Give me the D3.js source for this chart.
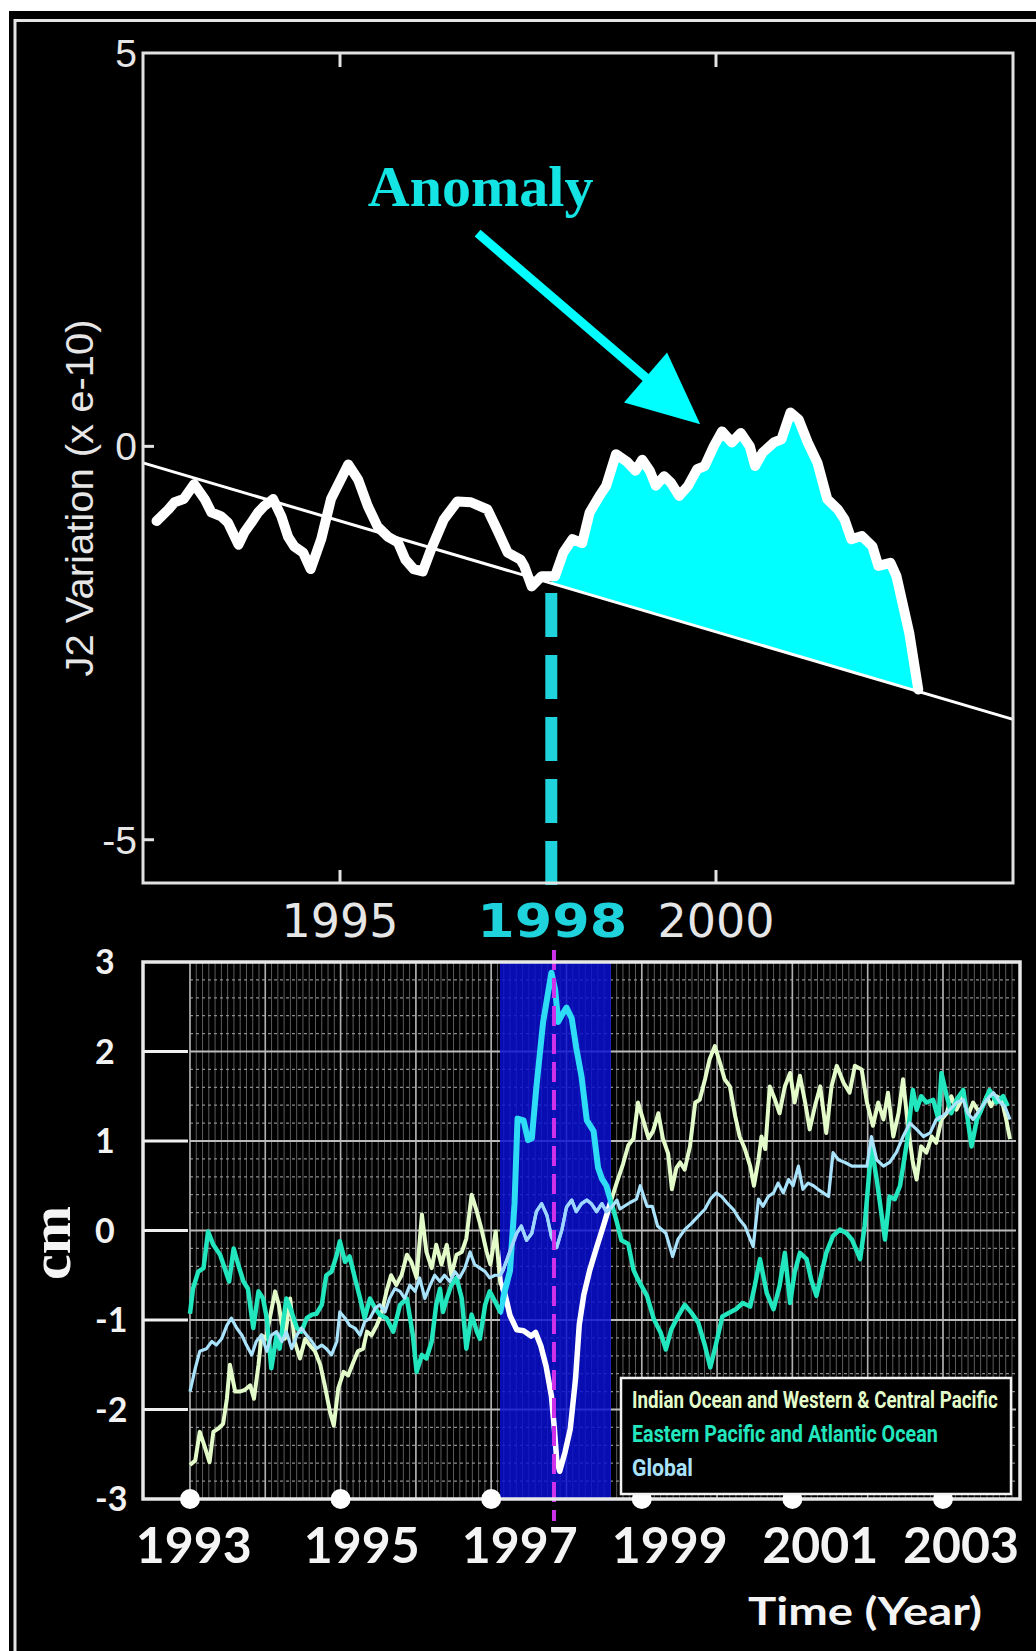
<!DOCTYPE html>
<html>
<head>
<meta charset="utf-8">
<script src="https://cdn.jsdelivr.net/npm/d3@7"></script>
<style>
  html, body { margin: 0; padding: 0; background: #fff; }
  svg { display: block; }
</style>
</head>
<body>
<div id="main"></div>
<script>
(function() {
  // ---- top panel: J2 variation (x e-10) ----
  const j2Series = [
    [1992.56,-0.95],[1992.72,-0.80],[1992.80,-0.71],[1992.92,-0.67],[1993.06,-0.48],[1993.20,-0.67],
    [1993.29,-0.84],[1993.42,-0.89],[1993.51,-0.97],[1993.65,-1.25],[1993.73,-1.09],[1993.82,-0.97],
    [1993.91,-0.84],[1993.99,-0.76],[1994.11,-0.67],[1994.22,-0.89],[1994.31,-1.15],[1994.39,-1.27],
    [1994.51,-1.35],[1994.61,-1.56],[1994.75,-1.18],[1994.88,-0.67],[1995.11,-0.23],[1995.24,-0.42],
    [1995.37,-0.76],[1995.50,-1.02],[1995.64,-1.15],[1995.77,-1.22],[1995.87,-1.44],[1995.98,-1.56],
    [1996.10,-1.59],[1996.21,-1.31],[1996.38,-0.93],[1996.56,-0.70],[1996.74,-0.71],[1996.96,-0.80],
    [1997.09,-1.06],[1997.23,-1.35],[1997.40,-1.44],[1997.45,-1.52],[1997.55,-1.78],[1997.68,-1.65],
    [1997.86,-1.65],[1997.97,-1.35],[1998.09,-1.18],[1998.22,-1.23],[1998.32,-0.84],[1998.45,-0.63],
    [1998.54,-0.50],[1998.67,-0.10],[1998.81,-0.19],[1998.93,-0.31],[1999.02,-0.17],[1999.12,-0.31],
    [1999.20,-0.50],[1999.31,-0.38],[1999.40,-0.46],[1999.51,-0.63],[1999.63,-0.50],[1999.75,-0.29],
    [1999.85,-0.25],[1999.97,0.00],[2000.08,0.19],[2000.21,0.05],[2000.33,0.17],[2000.45,0.00],
    [2000.52,-0.25],[2000.62,-0.08],[2000.77,0.05],[2000.87,0.09],[2000.99,0.43],[2001.10,0.34],
    [2001.22,0.05],[2001.35,-0.21],[2001.48,-0.67],[2001.62,-0.80],[2001.71,-0.93],[2001.80,-1.18],
    [2001.94,-1.14],[2002.08,-1.27],[2002.16,-1.52],[2002.32,-1.48],[2002.40,-1.65],[2002.57,-2.37],
    [2002.69,-3.09]
  ];
  const trendLine = [[1992.38, -0.21], [2003.95, -3.47]];
  const anomalyStart = 1997.81;
  const topYTicks = [5, 0, -5];
  const topXTicks = [1995, 2000];
  const arrowFrom = [1996.83, 2.71];
  const arrowTo = [1999.79, 0.28];
  const anomalyLabelAt = [1995.37, 3.05];

  // ---- bottom panel: sea level (cm) ----
  const indianSeries = [
    [1993.00,-2.62],[1993.07,-2.57],[1993.13,-2.25],[1993.19,-2.40],[1993.26,-2.59],[1993.31,-2.25],
    [1993.38,-2.21],[1993.44,-2.16],[1993.49,-1.88],[1993.53,-1.50],[1993.60,-1.80],[1993.66,-1.80],
    [1993.73,-1.78],[1993.80,-1.73],[1993.85,-1.88],[1993.91,-1.50],[1993.95,-1.17],[1994.01,-1.21],
    [1994.06,-0.98],[1994.13,-0.68],[1994.18,-0.83],[1994.22,-1.06],[1994.26,-1.21],[1994.33,-0.76],
    [1994.39,-1.24],[1994.46,-1.43],[1994.53,-1.21],[1994.59,-1.28],[1994.66,-1.35],[1994.73,-1.50],
    [1994.79,-1.73],[1994.86,-2.03],[1994.91,-2.18],[1994.97,-1.76],[1995.04,-1.58],[1995.10,-1.62],
    [1995.17,-1.47],[1995.23,-1.35],[1995.30,-1.32],[1995.35,-1.13],[1995.41,-1.17],[1995.48,-1.06],
    [1995.54,-0.94],[1995.61,-0.68],[1995.67,-0.50],[1995.74,-0.61],[1995.81,-0.50],[1995.88,-0.27],
    [1995.94,-0.35],[1996.01,-0.53],[1996.08,0.18],[1996.14,-0.24],[1996.21,-0.42],[1996.27,-0.16],
    [1996.34,-0.38],[1996.41,-0.16],[1996.47,-0.50],[1996.54,-0.27],[1996.61,-0.24],[1996.67,-0.09],
    [1996.74,0.40],[1996.81,0.21],[1996.87,0.02],[1996.94,-0.24],[1996.99,-0.38],[1997.06,-0.01],
    [1997.12,-0.58],[1997.18,-0.70],[1997.25,-0.95],[1997.34,-1.11],[1997.43,-1.12],[1997.53,-1.18],
    [1997.59,-1.14],[1997.66,-1.29],[1997.73,-1.52],[1997.80,-1.85],[1997.84,-2.22],[1997.87,-2.56],
    [1997.91,-2.69],[1997.98,-2.48],[1998.05,-2.22],[1998.12,-1.66],[1998.17,-1.05],[1998.23,-0.72],
    [1998.31,-0.44],[1998.40,-0.19],[1998.49,0.05],[1998.58,0.30],[1998.67,0.54],[1998.75,0.74],
    [1998.82,0.95],[1998.89,1.03],[1998.95,1.43],[1999.02,1.23],[1999.09,1.03],[1999.15,1.11],
    [1999.22,1.31],[1999.28,1.03],[1999.35,0.86],[1999.40,0.46],[1999.46,0.70],[1999.51,0.76],
    [1999.57,0.68],[1999.64,0.94],[1999.71,1.43],[1999.77,1.46],[1999.84,1.69],[1999.90,1.91],
    [1999.97,2.06],[2000.04,1.87],[2000.10,1.69],[2000.17,1.61],[2000.24,1.28],[2000.30,1.05],
    [2000.37,0.91],[2000.44,0.72],[2000.49,0.50],[2000.55,0.79],[2000.59,1.05],[2000.64,0.91],
    [2000.70,1.61],[2000.77,1.46],[2000.83,1.31],[2000.90,1.61],[2000.97,1.76],[2001.03,1.43],
    [2001.10,1.73],[2001.17,1.43],[2001.23,1.13],[2001.30,1.39],[2001.37,1.61],[2001.45,1.09],
    [2001.52,1.61],[2001.59,1.84],[2001.68,1.65],[2001.76,1.54],[2001.83,1.84],[2001.92,1.80],
    [2001.99,1.43],[2002.07,1.17],[2002.14,1.43],[2002.21,1.24],[2002.27,1.54],[2002.34,1.05],
    [2002.41,1.31],[2002.47,1.69],[2002.54,1.13],[2002.60,0.76],[2002.65,0.57],[2002.71,0.94],
    [2002.78,0.87],[2002.85,1.05],[2002.91,0.98],[2002.98,1.24],[2003.05,1.31],[2003.11,1.50],
    [2003.18,1.35],[2003.27,1.50],[2003.33,1.28],[2003.40,1.43],[2003.49,1.31],[2003.58,1.50],
    [2003.64,1.39],[2003.71,1.50],[2003.78,1.46],[2003.84,1.24],[2003.89,1.02]
  ];
  const easternSeries = [
    [1993.00,-0.93],[1993.04,-0.65],[1993.11,-0.46],[1993.18,-0.42],[1993.24,-0.01],[1993.31,-0.16],
    [1993.40,-0.27],[1993.46,-0.42],[1993.52,-0.57],[1993.58,-0.20],[1993.64,-0.38],[1993.71,-0.57],
    [1993.77,-0.65],[1993.84,-1.09],[1993.91,-0.68],[1993.97,-0.76],[1994.02,-0.98],[1994.08,-1.54],
    [1994.15,-1.17],[1994.19,-1.32],[1994.28,-0.76],[1994.35,-0.91],[1994.42,-1.09],[1994.48,-1.13],
    [1994.55,-0.98],[1994.62,-0.94],[1994.68,-0.93],[1994.75,-0.83],[1994.81,-0.50],[1994.88,-0.46],
    [1994.95,-0.27],[1994.99,-0.12],[1995.06,-0.35],[1995.12,-0.29],[1995.19,-0.53],[1995.26,-0.76],
    [1995.32,-0.98],[1995.39,-0.76],[1995.46,-0.87],[1995.52,-0.94],[1995.61,-0.98],[1995.70,-1.13],
    [1995.79,-0.83],[1995.88,-0.76],[1995.96,-1.17],[1996.01,-1.58],[1996.08,-1.39],[1996.14,-1.43],
    [1996.21,-1.24],[1996.27,-0.83],[1996.32,-0.65],[1996.36,-0.91],[1996.41,-0.76],[1996.47,-0.61],
    [1996.54,-0.53],[1996.61,-0.76],[1996.67,-1.32],[1996.74,-0.94],[1996.81,-1.13],[1996.85,-1.21],
    [1996.92,-0.83],[1996.98,-0.68],[1997.05,-0.79],[1997.12,-0.91],[1997.18,-0.68],[1997.25,-0.45],
    [1997.31,0.30],[1997.35,1.25],[1997.43,1.23],[1997.49,1.01],[1997.54,1.03],[1997.60,1.60],
    [1997.69,2.33],[1997.80,2.88],[1997.85,2.69],[1997.89,2.33],[1997.94,2.41],[1998.00,2.49],
    [1998.07,2.37],[1998.13,2.04],[1998.20,1.72],[1998.27,1.23],[1998.36,1.11],[1998.42,0.70],
    [1998.47,0.58],[1998.53,0.50],[1998.60,0.30],[1998.67,0.09],[1998.73,-0.11],[1998.82,-0.15],
    [1998.89,-0.44],[1998.95,-0.55],[1999.07,-0.73],[1999.16,-0.99],[1999.25,-1.14],[1999.32,-1.33],
    [1999.39,-1.11],[1999.48,-0.96],[1999.57,-0.83],[1999.66,-0.92],[1999.75,-1.03],[1999.84,-1.29],
    [1999.91,-1.53],[1999.98,-1.29],[2000.07,-0.96],[2000.16,-0.92],[2000.25,-0.88],[2000.34,-0.81],
    [2000.44,-0.85],[2000.50,-0.62],[2000.57,-0.32],[2000.66,-0.70],[2000.75,-0.88],[2000.83,-0.62],
    [2000.90,-0.25],[2000.97,-0.81],[2001.03,-0.47],[2001.10,-0.25],[2001.19,-0.32],[2001.25,-0.55],
    [2001.32,-0.73],[2001.39,-0.47],[2001.45,-0.25],[2001.54,-0.06],[2001.63,0.01],[2001.72,-0.03],
    [2001.79,-0.10],[2001.90,-0.32],[2001.96,0.05],[2002.05,0.94],[2002.12,0.57],[2002.23,-0.10],
    [2002.29,0.38],[2002.36,0.35],[2002.43,0.50],[2002.52,0.98],[2002.60,1.57],[2002.65,1.35],
    [2002.71,1.50],[2002.78,1.43],[2002.87,1.46],[2002.94,1.24],[2002.98,1.76],[2003.05,1.50],
    [2003.11,1.31],[2003.18,1.46],[2003.27,1.57],[2003.31,1.35],[2003.38,0.94],[2003.45,1.24],
    [2003.53,1.39],[2003.62,1.57],[2003.71,1.43],[2003.80,1.50],[2003.86,1.39]
  ];
  const globalSeries = [
    [1993.00,-1.80],[1993.07,-1.54],[1993.13,-1.35],[1993.22,-1.32],[1993.29,-1.24],[1993.35,-1.28],
    [1993.42,-1.21],[1993.49,-1.06],[1993.55,-0.98],[1993.62,-1.09],[1993.69,-1.17],[1993.75,-1.28],
    [1993.82,-1.39],[1993.88,-1.24],[1993.95,-1.17],[1994.02,-1.35],[1994.08,-1.17],[1994.15,-1.13],
    [1994.22,-1.24],[1994.28,-1.13],[1994.35,-1.32],[1994.42,-1.17],[1994.48,-1.09],[1994.55,-1.17],
    [1994.62,-1.24],[1994.68,-1.32],[1994.75,-1.28],[1994.81,-1.32],[1994.88,-1.39],[1994.95,-1.24],
    [1994.99,-0.91],[1995.06,-0.98],[1995.12,-1.06],[1995.19,-1.09],[1995.26,-1.17],[1995.32,-1.02],
    [1995.39,-0.98],[1995.46,-0.87],[1995.52,-0.83],[1995.59,-0.91],[1995.65,-0.76],[1995.72,-0.65],
    [1995.79,-0.68],[1995.85,-0.76],[1995.92,-0.61],[1995.99,-0.68],[1996.05,-0.53],[1996.12,-0.76],
    [1996.19,-0.61],[1996.25,-0.50],[1996.32,-0.57],[1996.38,-0.50],[1996.45,-0.57],[1996.52,-0.46],
    [1996.58,-0.53],[1996.65,-0.42],[1996.72,-0.24],[1996.78,-0.38],[1996.85,-0.42],[1996.92,-0.46],
    [1996.98,-0.53],[1997.05,-0.50],[1997.12,-0.50],[1997.16,-0.44],[1997.25,-0.23],[1997.34,-0.03],
    [1997.40,0.05],[1997.47,-0.11],[1997.54,-0.03],[1997.60,0.21],[1997.67,0.30],[1997.74,0.17],
    [1997.80,-0.07],[1997.87,-0.19],[1997.94,0.01],[1998.00,0.26],[1998.07,0.34],[1998.13,0.21],
    [1998.20,0.30],[1998.27,0.34],[1998.33,0.30],[1998.40,0.21],[1998.47,0.30],[1998.53,0.21],
    [1998.60,0.26],[1998.67,0.34],[1998.71,0.24],[1998.84,0.31],[1998.93,0.35],[1998.98,0.50],
    [1999.07,0.27],[1999.14,0.27],[1999.21,0.05],[1999.32,-0.03],[1999.41,-0.29],[1999.48,-0.10],
    [1999.57,0.01],[1999.66,0.08],[1999.75,0.16],[1999.84,0.24],[1999.91,0.35],[1999.99,0.42],
    [2000.06,0.38],[2000.13,0.31],[2000.22,0.23],[2000.30,0.12],[2000.37,0.05],[2000.44,-0.10],
    [2000.48,-0.18],[2000.55,0.35],[2000.61,0.27],[2000.68,0.38],[2000.75,0.42],[2000.81,0.53],
    [2000.88,0.42],[2000.95,0.57],[2001.01,0.50],[2001.08,0.72],[2001.14,0.46],[2001.21,0.53],
    [2001.28,0.50],[2001.34,0.46],[2001.41,0.42],[2001.48,0.38],[2001.54,0.87],[2001.61,0.79],
    [2001.70,0.76],[2001.79,0.72],[2001.90,0.72],[2001.99,0.72],[2002.05,1.05],[2002.12,0.79],
    [2002.21,0.72],[2002.29,0.76],[2002.38,0.87],[2002.47,1.05],[2002.56,1.20],[2002.65,1.13],
    [2002.74,1.05],[2002.83,1.09],[2002.91,1.24],[2003.00,1.28],[2003.09,1.35],[2003.18,1.43],
    [2003.27,1.46],[2003.33,1.31],[2003.40,1.24],[2003.49,1.35],[2003.58,1.46],[2003.67,1.54],
    [2003.76,1.43],[2003.82,1.39],[2003.89,1.24]
  ];
  const bottomYTicks = [3, 2, 1, 0, -1, -2, -3];
  const bottomXTicks = [1993, 1995, 1997, 1999, 2001, 2003];
  const bottomXLabelYears = [1993.05, 1995.28, 1997.38, 1999.37, 2001.37, 2003.24];
  const ensoWindow = [1997.117, 1998.59];
  const ensoPeak = 1997.834;
  const legendLabels = [
    "Indian Ocean and Western & Central Pacific",
    "Eastern Pacific and Atlantic Ocean",
    "Global"
  ];

  const W = 1036, H = 1651;
  const colors = {
    indian: "#e3fbc9", eastern: "#22e6bd", global: "#a9e2fb",
    indianBlue: "#ffffff", easternBlue: "#2fdcf6", globalBlue: "#9dd6ff",
    cyan: "#00ffff", cyanText: "#14e4e4", dash: "#1fd3dc"
  };

  const svg = d3.select("#main")
    .append("svg")
    .attr("width", W)
    .attr("height", H);

  // page frame
  svg.append("rect")
    .attr("x", 9).attr("y", 11)
    .attr("width", W - 9).attr("height", H - 11)
    .attr("fill", "#000");
  svg.append("path")
    .attr("d", `M15,${H} V20.5 H${W}`)
    .attr("fill", "none")
    .attr("stroke", "#e4e4e4")
    .attr("stroke-width", 3);

  // ================= top panel =================
  const tp = { left: 143, right: 1013, top: 53, bottom: 883 };
  const xTop = d3.scaleLinear().domain([1992.38, 2003.95]).range([tp.left, tp.right]);
  const yTop = d3.scaleLinear().domain([-5.55, 5]).range([tp.bottom, tp.top]);
  const trend = d3.scaleLinear().domain(trendLine.map(d => d[0])).range(trendLine.map(d => d[1]));
  const j2At = d3.scaleLinear().domain(j2Series.map(d => d[0])).range(j2Series.map(d => d[1]));

  const topG = svg.append("g");

  // anomaly fill between curve and trend
  const anomalyPts = [[anomalyStart, j2At(anomalyStart)]]
    .concat(j2Series.filter(d => d[0] > anomalyStart));
  topG.append("path")
    .datum(anomalyPts)
    .attr("fill", colors.cyan)
    .attr("d", d3.area()
      .x(d => xTop(d[0]))
      .y0(d => yTop(trend(d[0])))
      .y1(d => yTop(d[1])));

  // dashed marker at 1998, drawn bottom-up
  topG.append("line")
    .attr("x1", xTop(anomalyStart)).attr("x2", xTop(anomalyStart))
    .attr("y1", tp.bottom + 2).attr("y2", yTop(trend(anomalyStart)))
    .attr("stroke", colors.dash)
    .attr("stroke-width", 12)
    .attr("stroke-dasharray", "44,18");

  // trend
  topG.append("line")
    .attr("x1", xTop(trendLine[0][0])).attr("y1", yTop(trendLine[0][1]))
    .attr("x2", xTop(trendLine[1][0])).attr("y2", yTop(trendLine[1][1]))
    .attr("stroke", "#fff")
    .attr("stroke-width", 3);

  // J2 curve
  topG.append("path")
    .datum(j2Series)
    .attr("fill", "none")
    .attr("stroke", "#fff")
    .attr("stroke-width", 10)
    .attr("stroke-linejoin", "round")
    .attr("stroke-linecap", "round")
    .attr("d", d3.line().x(d => xTop(d[0])).y(d => yTop(d[1])));

  // box + ticks
  topG.append("rect")
    .attr("x", tp.left).attr("y", tp.top)
    .attr("width", tp.right - tp.left).attr("height", tp.bottom - tp.top)
    .attr("fill", "none")
    .attr("stroke", "#e2e2e2")
    .attr("stroke-width", 3);
  topXTicks.forEach(t => {
    topG.append("line")
      .attr("x1", xTop(t)).attr("x2", xTop(t))
      .attr("y1", tp.top).attr("y2", tp.top + 14)
      .attr("stroke", "#e2e2e2").attr("stroke-width", 3);
    topG.append("line")
      .attr("x1", xTop(t)).attr("x2", xTop(t))
      .attr("y1", tp.bottom).attr("y2", tp.bottom - 13)
      .attr("stroke", "#e2e2e2").attr("stroke-width", 3);
  });
  topYTicks.filter(t => t < 5).forEach(t => {
    topG.append("line")
      .attr("x1", tp.left).attr("x2", tp.left + 11)
      .attr("y1", yTop(t)).attr("y2", yTop(t))
      .attr("stroke", "#e2e2e2").attr("stroke-width", 3);
  });

  topG.selectAll(".ytl")
    .data(topYTicks)
    .join("text")
    .attr("x", tp.left - 6)
    .attr("y", d => yTop(d))
    .attr("dy", "0.36em")
    .attr("text-anchor", "end")
    .attr("font-family", "Liberation Sans, Arial, sans-serif")
    .attr("font-size", 39)
    .attr("fill", "#e6e6e6")
    .text(d => d);

  topG.selectAll(".xtl")
    .data(topXTicks)
    .join("text")
    .attr("x", d => xTop(d))
    .attr("y", 937)
    .attr("text-anchor", "middle")
    .attr("font-family", "DejaVu Sans, sans-serif")
    .attr("font-size", 46)
    .attr("fill", "#e6e6e6")
    .text(d => d);

  topG.append("text")
    .attr("x", xTop(anomalyStart) + 1)
    .attr("y", 937)
    .attr("text-anchor", "middle")
    .attr("font-family", "DejaVu Sans, sans-serif")
    .attr("font-weight", "bold")
    .attr("font-size", 46)
    .attr("textLength", 150)
    .attr("lengthAdjust", "spacingAndGlyphs")
    .attr("fill", colors.dash)
    .text("1998");

  topG.append("text")
    .attr("transform", "translate(93,498) rotate(-90)")
    .attr("text-anchor", "middle")
    .attr("font-family", "Liberation Sans, Arial, sans-serif")
    .attr("font-size", 38)
    .attr("textLength", 357)
    .attr("lengthAdjust", "spacingAndGlyphs")
    .attr("fill", "#e6e6e6")
    .text("J2 Variation (x e-10)");

  // annotation
  topG.append("text")
    .attr("x", xTop(anomalyLabelAt[0]))
    .attr("y", yTop(anomalyLabelAt[1]))
    .attr("font-family", "Liberation Serif, Times New Roman, serif")
    .attr("font-weight", "bold")
    .attr("font-size", 58)
    .attr("fill", colors.cyanText)
    .text("Anomaly");

  const ax0 = xTop(arrowFrom[0]), ay0 = yTop(arrowFrom[1]);
  const ax1 = xTop(arrowTo[0]), ay1 = yTop(arrowTo[1]);
  const alen = Math.hypot(ax1 - ax0, ay1 - ay0);
  const ux = (ax1 - ax0) / alen, uy = (ay1 - ay0) / alen;
  const headLen = 72, headHalf = 33;
  const bx = ax1 - ux * headLen, by = ay1 - uy * headLen;
  topG.append("line")
    .attr("x1", ax0).attr("y1", ay0)
    .attr("x2", bx + ux * 4).attr("y2", by + uy * 4)
    .attr("stroke", colors.cyan)
    .attr("stroke-width", 9);
  topG.append("polygon")
    .attr("points", [
      [ax1, ay1],
      [bx - uy * headHalf, by + ux * headHalf],
      [bx + uy * headHalf, by - ux * headHalf]
    ].map(p => p.join(",")).join(" "))
    .attr("fill", colors.cyan);

  // ================= bottom panel =================
  const bp = { left: 143, right: 1020, top: 962, bottom: 1499 };
  const xBot = d3.scaleLinear().domain([1992.376, 2004.023]).range([bp.left, bp.right]);
  const yBot = d3.scaleLinear().domain([-3, 3]).range([bp.bottom, bp.top]);
  const gridX0 = 1993, gridX1 = 2003.97;

  const botG = svg.append("g");
  const grid = botG.append("g");

  // minor grid
  grid.selectAll(".vmin")
    .data(d3.range(0, 132).map(m => gridX0 + m / 12).filter(y => y <= gridX1))
    .join("line")
    .attr("x1", d => xBot(d)).attr("x2", d => xBot(d))
    .attr("y1", bp.top).attr("y2", bp.bottom)
    .attr("stroke", "#5c5c5c").attr("stroke-width", 1);
  grid.selectAll(".hmin")
    .data(d3.range(-14, 15).map(i => i * 0.2).filter(v => Math.abs(v - Math.round(v)) > 0.01))
    .join("line")
    .attr("x1", xBot(gridX0)).attr("x2", xBot(gridX1))
    .attr("y1", d => yBot(d)).attr("y2", d => yBot(d))
    .attr("stroke", "#8c8c8c").attr("stroke-width", 1.2)
    .attr("stroke-dasharray", "3,3");
  // major grid
  grid.selectAll(".vmaj")
    .data(d3.range(1993, 2004))
    .join("line")
    .attr("x1", d => xBot(d)).attr("x2", d => xBot(d))
    .attr("y1", bp.top).attr("y2", bp.bottom)
    .attr("stroke", "#b0b0b0").attr("stroke-width", 1.6);
  grid.selectAll(".hmaj")
    .data(d3.range(-2, 3))
    .join("line")
    .attr("x1", xBot(gridX0)).attr("x2", xBot(gridX1))
    .attr("y1", d => yBot(d)).attr("y2", d => yBot(d))
    .attr("stroke", "#bcbcbc").attr("stroke-width", 2);

  // El Nino window
  botG.append("rect")
    .attr("x", xBot(ensoWindow[0])).attr("y", bp.top)
    .attr("width", xBot(ensoWindow[1]) - xBot(ensoWindow[0]))
    .attr("height", bp.bottom - bp.top)
    .attr("fill", "#0a10d4")
    .attr("opacity", 0.84);

  botG.append("clipPath")
    .attr("id", "enso-clip")
    .append("rect")
    .attr("x", xBot(ensoWindow[0])).attr("y", bp.top - 20)
    .attr("width", xBot(ensoWindow[1]) - xBot(ensoWindow[0]))
    .attr("height", bp.bottom - bp.top + 40);

  const seaLine = d3.line().x(d => xBot(d[0])).y(d => yBot(d[1]));
  const seriesDefs = [
    { data: indianSeries, color: colors.indian, inner: colors.indianBlue, w: 4, wIn: 5.5 },
    { data: easternSeries, color: colors.eastern, inner: colors.easternBlue, w: 4.5, wIn: 6 },
    { data: globalSeries, color: colors.global, inner: colors.globalBlue, w: 3.2, wIn: 3.2 }
  ];
  seriesDefs.forEach(s => {
    botG.append("path")
      .datum(s.data)
      .attr("fill", "none")
      .attr("stroke", s.color)
      .attr("stroke-width", s.w)
      .attr("stroke-linejoin", "round")
      .attr("d", seaLine);
    botG.append("path")
      .datum(s.data)
      .attr("clip-path", "url(#enso-clip)")
      .attr("fill", "none")
      .attr("stroke", s.inner)
      .attr("stroke-width", s.wIn)
      .attr("stroke-linejoin", "round")
      .attr("d", seaLine);
  });

  // peak marker
  botG.append("line")
    .attr("x1", xBot(ensoPeak)).attr("x2", xBot(ensoPeak))
    .attr("y1", bp.top - 12).attr("y2", bp.bottom + 22)
    .attr("stroke", "#cf30ea")
    .attr("stroke-width", 4)
    .attr("stroke-dasharray", "20,8");

  // axes frame and ticks
  botG.selectAll(".ytick")
    .data(d3.range(-2, 3))
    .join("line")
    .attr("x1", bp.left).attr("x2", xBot(gridX0) - 2)
    .attr("y1", d => yBot(d)).attr("y2", d => yBot(d))
    .attr("stroke", "#f0f0f0").attr("stroke-width", 3);
  botG.append("rect")
    .attr("x", bp.left).attr("y", bp.top)
    .attr("width", bp.right - bp.left).attr("height", bp.bottom - bp.top)
    .attr("fill", "none")
    .attr("stroke", "#e8e8e8")
    .attr("stroke-width", 3.5);

  botG.selectAll(".dot")
    .data(bottomXTicks)
    .join("circle")
    .attr("cx", d => xBot(d))
    .attr("cy", bp.bottom)
    .attr("r", 10)
    .attr("fill", "#fff");

  // legend: text squeezed horizontally to the widths seen in the figure
  const lg = botG.append("g");
  lg.append("rect")
    .attr("x", 621).attr("y", 1378)
    .attr("width", 390).attr("height", 116)
    .attr("fill", "#000")
    .attr("stroke", "#f2f2f2")
    .attr("stroke-width", 2.5);
  const legendColors = [colors.indian, colors.eastern, colors.global];
  const legendWidths = [366, 306, 61];
  lg.selectAll("text")
    .data(legendLabels)
    .join("text")
    .attr("x", 0)
    .attr("y", 0)
    .attr("font-family", "Liberation Sans Narrow, Roboto, sans-serif")
    .attr("font-weight", "bold")
    .attr("font-size", 23)
    .attr("fill", (d, i) => legendColors[i])
    .text(d => d)
    .each(function(d, i) {
      const natural = this.getComputedTextLength();
      const sx = natural > 0 ? legendWidths[i] / natural : 1;
      d3.select(this).attr("transform", `translate(632,${1408 + i * 34}) scale(${sx},1)`);
    });

  // tick labels
  botG.selectAll(".bytl")
    .data(bottomYTicks)
    .join("text")
    .attr("x", 95)
    .attr("y", d => yBot(d))
    .attr("dy", "0.36em")
    .attr("font-family", "Lato, Open Sans, sans-serif")
    .attr("font-weight", 700)
    .attr("font-size", 34)
    .attr("fill", "#f2f2f2")
    .text(d => d);

  botG.selectAll(".bxtl")
    .data(bottomXTicks)
    .join("text")
    .attr("x", (d, i) => xBot(bottomXLabelYears[i]))
    .attr("y", 1563)
    .attr("text-anchor", "middle")
    .attr("font-family", "Lato, Open Sans, sans-serif")
    .attr("font-weight", 700)
    .attr("font-size", 50)
    .attr("fill", "#f4f4f4")
    .text(d => d);

  botG.append("text")
    .attr("x", 748)
    .attr("y", 1625)
    .attr("font-family", "Lato, Open Sans, sans-serif")
    .attr("font-weight", 700)
    .attr("font-size", 39)
    .attr("textLength", 234)
    .attr("lengthAdjust", "spacingAndGlyphs")
    .attr("fill", "#f4f4f4")
    .text("Time (Year)");

  botG.append("text")
    .attr("transform", "translate(70,1243) rotate(-90)")
    .attr("text-anchor", "middle")
    .attr("font-family", "Liberation Serif, Times New Roman, serif")
    .attr("font-weight", "bold")
    .attr("font-size", 58)
    .attr("fill", "#f4f4f4")
    .text("cm");
})();
</script>
</body>
</html>
